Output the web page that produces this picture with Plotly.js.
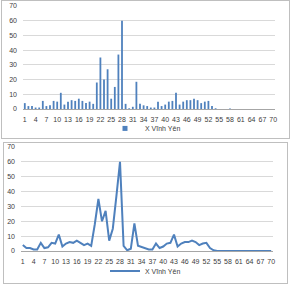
<!DOCTYPE html>
<html>
<head>
<meta charset="utf-8">
<script src="https://cdn.plot.ly/plotly-3.0.1.min.js"></script>
<style>
html,body{margin:0;padding:0;background:#fff;width:293px;height:285px;overflow:hidden;}
#top{position:absolute;left:1px;top:0px;width:289px;height:139px;border:1px solid #bfbfbf;box-sizing:border-box;}
#bot{position:absolute;left:3px;top:142px;width:285px;height:142px;border:1px solid #bfbfbf;box-sizing:border-box;}
</style>
</head>
<body>
<div id="top"></div>
<div id="bot"></div>
<script>
var seriesName = "X Vĩnh Yên";
var categories = [];
for (var i = 1; i <= 70; i++) categories.push(i);
var values = [
  4, 2, 2, 1, 1, 5.5, 2, 2.5, 5.5, 5,
  11, 3, 5, 6, 5.5, 7, 5.5, 4, 5, 3.5,
  18, 35, 20, 27, 7, 15, 37, 60, 3.5, 0.5,
  1.5, 18.5, 3.5, 2.5, 2, 1, 1, 5, 2, 3,
  5, 5.5, 11, 3, 5, 6, 6, 7, 6, 4,
  5, 5.5, 2, 0.5, 0, 0, 0, 0.3, 0, 0,
  0, 0, 0, 0, 0, 0, 0, 0, 0, 0
];
var tickVals = [1,4,7,10,13,16,19,22,25,28,31,34,37,40,43,46,49,52,55,58,61,64,67,70];
var tickText = tickVals.map(String);
var yTicks = [0,10,20,30,40,50,60,70];

var color = "#4F81BD";
var font = {family: "Liberation Sans, Arial, sans-serif", size: 7, color: "#404040"};

function axes(){
  return {
    xaxis: {type: "linear", range: [0.5, 70.5], tickmode: "array", tickvals: tickVals, ticktext: tickText,
            showgrid: false, zeroline: false, showline: true, linecolor: "#a6a6a6", linewidth: 1,
            ticks: "", ticklabelstandoff: 4, tickfont: font, fixedrange: true, automargin: false},
    yaxis: {range: [0, 70], tickmode: "array", tickvals: yTicks, showgrid: true, gridcolor: "#d9d9d9",
            gridwidth: 1, zeroline: false, showline: false, ticks: "", ticklabelstandoff: 5,
            tickfont: font, fixedrange: true, automargin: false}
  };
}

var a1 = axes();
Plotly.newPlot("top", [
  {type: "bar", x: categories, y: values, name: seriesName, marker: {color: color}, width: 0.5, showlegend: false},
  {type: "scatter", mode: "markers", x: [null], y: [null], name: seriesName,
   marker: {color: color, symbol: "square", size: 5}, showlegend: true}
], {
  width: 287, height: 137,
  margin: {l: 21, r: 14, t: 5, b: 28.5},
  paper_bgcolor: "rgba(0,0,0,0)", plot_bgcolor: "rgba(0,0,0,0)",
  xaxis: a1.xaxis, yaxis: a1.yaxis,
  showlegend: true,
  legend: {orientation: "h", x: 0.5, xanchor: "center", xref: "container", yref: "container",
           y: 0.07, yanchor: "middle", font: font, itemwidth: 30, bgcolor: "rgba(0,0,0,0)"}
}, {staticPlot: true});

var a2 = axes();
Plotly.newPlot("bot", [{
  type: "scatter", mode: "lines", x: categories, y: values, name: seriesName,
  line: {color: color, width: 2}, showlegend: true
}], {
  width: 283, height: 140,
  margin: {l: 17, r: 14, t: 4, b: 32},
  paper_bgcolor: "rgba(0,0,0,0)", plot_bgcolor: "rgba(0,0,0,0)",
  xaxis: a2.xaxis, yaxis: a2.yaxis,
  showlegend: true,
  legend: {orientation: "h", x: 0.5, xanchor: "center", xref: "container", yref: "container",
           y: 0.086, yanchor: "middle", font: font, itemwidth: 30, bgcolor: "rgba(0,0,0,0)"}
}, {staticPlot: true});
</script>
</body>
</html>
